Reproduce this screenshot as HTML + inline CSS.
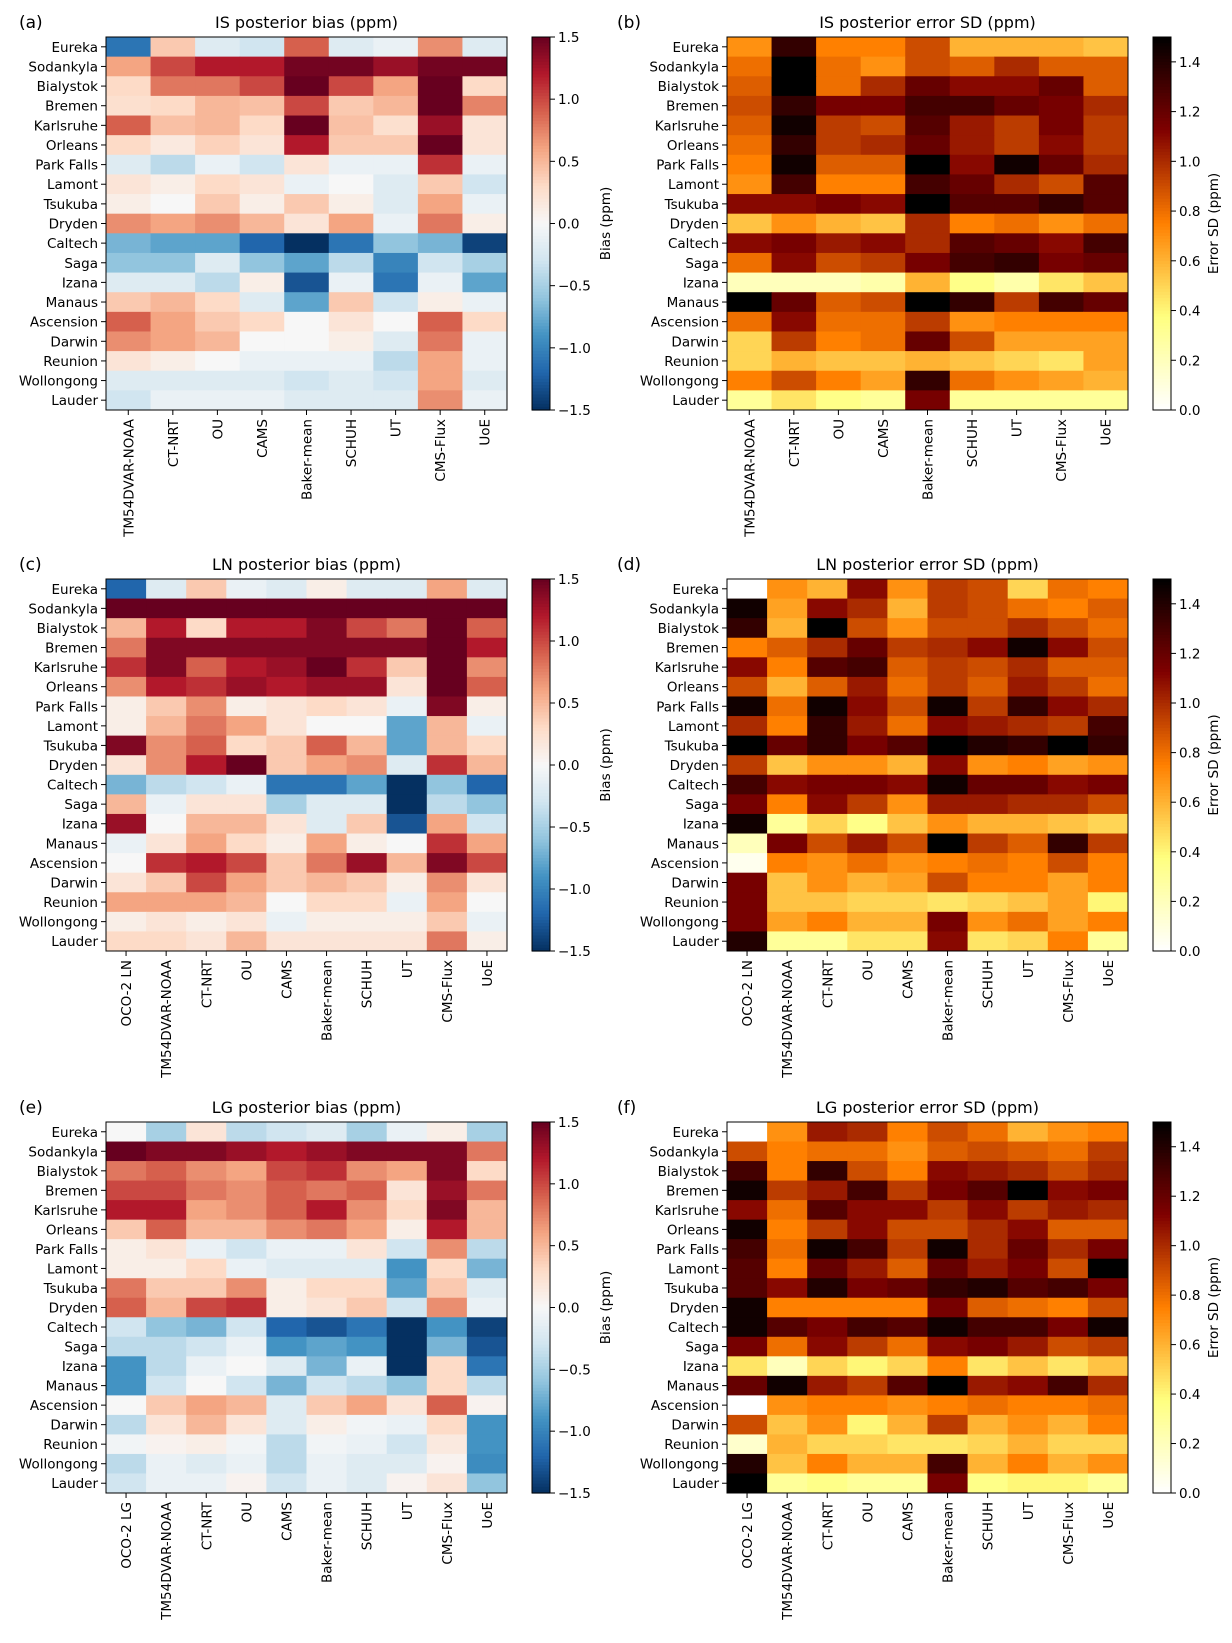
<!DOCTYPE html>
<html><head><meta charset="utf-8"><style>
body{margin:0;background:#fff;}
svg{display:block;font-family:"DejaVu Sans","Liberation Sans",sans-serif;}
</style></head><body>
<svg id="fig" width="1232" height="1643" viewBox="0 0 1232 1643" xmlns="http://www.w3.org/2000/svg"></svg>
<script>
const stations=["Eureka","Sodankyla","Bialystok","Bremen","Karlsruhe","Orleans","Park Falls","Lamont","Tsukuba","Dryden","Caltech","Saga","Izana","Manaus","Ascension","Darwin","Reunion","Wollongong","Lauder"];
const modelsIS=["TM54DVAR-NOAA","CT-NRT","OU","CAMS","Baker-mean","SCHUH","UT","CMS-Flux","UoE"];
const modelsLN=["OCO-2 LN","TM54DVAR-NOAA","CT-NRT","OU","CAMS","Baker-mean","SCHUH","UT","CMS-Flux","UoE"];
const modelsLG=["OCO-2 LG","TM54DVAR-NOAA","CT-NRT","OU","CAMS","Baker-mean","SCHUH","UT","CMS-Flux","UoE"];
const biasTicks=[-1.5,-1.0,-0.5,0.0,0.5,1.0,1.5];
const sdTicks=[0.0,0.2,0.4,0.6,0.8,1.0,1.2,1.4];
const isBias=[
[-1.1,0.4,-0.2,-0.3,0.9,-0.2,-0.1,0.7,-0.2],
[0.6,1.0,1.2,1.2,1.45,1.45,1.3,1.45,1.45],
[0.3,0.8,0.8,1.0,1.5,1.0,0.6,1.5,0.3],
[0.25,0.3,0.5,0.45,1.0,0.4,0.5,1.5,0.75],
[0.9,0.45,0.5,0.3,1.5,0.45,0.25,1.3,0.2],
[0.3,0.15,0.35,0.2,1.2,0.4,0.4,1.5,0.2],
[-0.2,-0.4,-0.1,-0.3,0.2,-0.1,-0.1,1.1,-0.1],
[0.2,0.1,0.3,0.2,-0.1,0.0,-0.2,0.4,-0.3],
[0.1,0.0,0.4,0.1,0.4,0.1,-0.2,0.6,-0.1],
[0.7,0.6,0.7,0.5,0.2,0.6,-0.1,0.8,0.1],
[-0.7,-0.8,-0.8,-1.2,-1.5,-1.1,-0.6,-0.7,-1.4],
[-0.6,-0.6,-0.2,-0.6,-0.8,-0.4,-1.0,-0.3,-0.5],
[-0.2,-0.2,-0.4,0.1,-1.3,-0.1,-1.1,-0.1,-0.8],
[0.4,0.5,0.3,-0.2,-0.8,0.4,-0.3,0.1,-0.1],
[0.9,0.6,0.4,0.3,0.0,0.2,0.0,0.9,0.3],
[0.7,0.6,0.5,0.0,0.0,0.1,-0.2,0.8,-0.1],
[0.2,0.1,0.0,-0.1,-0.1,-0.1,-0.4,0.6,-0.1],
[-0.2,-0.2,-0.2,-0.2,-0.3,-0.2,-0.3,0.6,-0.2],
[-0.3,-0.1,-0.1,-0.1,-0.2,-0.2,-0.2,0.7,-0.1]];
const isSD=[
[0.7,1.35,0.75,0.75,0.9,0.6,0.6,0.6,0.55],
[0.8,1.5,0.8,0.7,0.9,0.85,1.0,0.85,0.85],
[0.85,1.5,0.8,1.0,1.2,1.1,1.1,1.2,0.85],
[0.9,1.35,1.15,1.15,1.3,1.3,1.2,1.15,1.0],
[0.85,1.45,0.95,0.9,1.25,1.05,0.95,1.15,0.95],
[0.8,1.35,0.95,1.0,1.2,1.05,0.95,1.1,0.95],
[0.75,1.45,0.85,0.85,1.5,1.1,1.45,1.2,1.0],
[0.7,1.3,0.75,0.75,1.3,1.2,1.0,0.9,1.25],
[1.1,1.1,1.15,1.1,1.5,1.25,1.25,1.35,1.25],
[0.55,0.7,0.6,0.55,1.0,0.75,0.8,0.7,0.8],
[1.1,1.15,1.05,1.1,1.0,1.25,1.2,1.1,1.3],
[0.8,1.1,0.9,0.95,1.15,1.3,1.35,1.15,1.2],
[0.2,0.2,0.2,0.25,0.6,0.35,0.25,0.45,0.55],
[1.5,1.2,0.85,0.9,1.5,1.35,0.95,1.3,1.2],
[0.8,1.1,0.8,0.8,0.95,0.7,0.75,0.75,0.75],
[0.5,0.95,0.75,0.8,1.2,0.9,0.65,0.65,0.65],
[0.5,0.6,0.55,0.55,0.6,0.55,0.5,0.45,0.65],
[0.75,0.9,0.75,0.65,1.35,0.8,0.7,0.65,0.6],
[0.3,0.45,0.35,0.3,1.15,0.3,0.3,0.3,0.3]];
const lnBias=[
[-1.2,-0.2,0.4,-0.1,-0.2,0.1,-0.2,-0.2,0.6,-0.2],
[1.5,1.5,1.5,1.5,1.5,1.5,1.5,1.5,1.5,1.5],
[0.5,1.2,0.3,1.2,1.2,1.4,1.0,0.8,1.5,0.9],
[0.8,1.4,1.4,1.4,1.4,1.4,1.4,1.4,1.5,1.2],
[1.1,1.4,0.9,1.2,1.3,1.5,1.1,0.4,1.5,0.7],
[0.7,1.2,1.1,1.3,1.2,1.3,1.3,0.2,1.5,0.9],
[0.1,0.4,0.7,0.1,0.2,0.3,0.2,-0.1,1.4,0.1],
[0.1,0.5,0.8,0.6,0.2,0.0,0.0,-0.8,0.5,-0.1],
[1.4,0.7,0.9,0.3,0.4,0.9,0.5,-0.8,0.5,0.3],
[0.2,0.7,1.2,1.5,0.4,0.6,0.7,-0.2,1.1,0.5],
[-0.7,-0.4,-0.3,-0.1,-1.1,-1.1,-0.8,-1.5,-0.6,-1.2],
[0.5,-0.1,0.2,0.2,-0.5,-0.2,-0.2,-1.5,-0.4,-0.6],
[1.3,0.0,0.5,0.5,0.2,-0.2,0.4,-1.3,0.6,-0.3],
[-0.1,0.2,0.6,0.3,0.1,0.6,0.1,0.0,1.1,0.6],
[0.0,1.1,1.2,1.0,0.4,0.8,1.3,0.5,1.4,1.0],
[0.2,0.4,1.0,0.6,0.4,0.5,0.4,0.1,0.7,0.2],
[0.6,0.6,0.6,0.5,0.0,0.3,0.3,-0.1,0.6,0.0],
[0.1,0.2,0.1,0.2,-0.1,0.1,0.1,0.1,0.4,-0.1],
[0.3,0.3,0.2,0.5,0.2,0.2,0.2,0.2,0.8,0.1]];
const lnSD=[
[0.0,0.7,0.6,1.1,0.7,0.95,0.9,0.5,0.8,0.75],
[1.45,0.65,1.1,1.0,0.6,0.95,0.9,0.8,0.75,0.85],
[1.35,0.6,1.5,0.9,0.7,0.9,0.9,1.0,0.9,0.8],
[0.75,0.85,1.0,1.2,0.95,1.0,1.1,1.45,1.1,0.9],
[1.1,0.75,1.25,1.3,0.85,0.95,0.9,1.0,0.85,0.85],
[0.9,0.6,0.85,1.05,0.8,0.95,0.85,1.05,0.95,0.8],
[1.45,0.8,1.45,1.1,0.9,1.45,0.95,1.35,1.1,1.0],
[1.0,0.75,1.35,1.05,0.8,1.1,1.05,1.0,0.95,1.3],
[1.5,1.2,1.35,1.15,1.25,1.5,1.4,1.35,1.5,1.35],
[0.95,0.55,0.7,0.7,0.6,1.1,0.7,0.75,0.65,0.7],
[1.3,1.1,1.15,1.15,1.1,1.45,1.2,1.2,1.1,1.15],
[1.15,0.75,1.1,0.95,0.7,1.05,1.05,1.0,1.0,0.9],
[1.45,0.3,0.5,0.35,0.55,0.7,0.6,0.6,0.55,0.5],
[0.2,1.15,0.9,1.05,0.9,1.5,0.95,0.85,1.35,0.95],
[0.05,0.75,0.7,0.8,0.7,0.75,0.8,0.75,0.9,0.75],
[1.15,0.55,0.7,0.6,0.65,0.9,0.75,0.75,0.65,0.75],
[1.15,0.55,0.55,0.5,0.5,0.45,0.5,0.55,0.65,0.4],
[1.15,0.65,0.75,0.6,0.6,1.15,0.7,0.8,0.65,0.75],
[1.4,0.3,0.3,0.45,0.45,1.1,0.45,0.5,0.75,0.3]];
const lgBias=[
[0.0,-0.5,0.2,-0.4,-0.3,-0.2,-0.5,-0.1,0.1,-0.5],
[1.5,1.4,1.4,1.3,1.2,1.3,1.4,1.4,1.4,0.8],
[0.8,0.9,0.7,0.6,1.0,1.1,0.7,0.6,1.4,0.3],
[1.0,1.0,0.8,0.7,0.9,0.8,0.9,0.2,1.3,0.8],
[1.2,1.2,0.6,0.7,0.9,1.2,0.7,0.3,1.4,0.5],
[0.4,0.9,0.5,0.5,0.7,0.8,0.6,0.1,1.2,0.5],
[0.1,0.2,-0.1,-0.3,-0.1,-0.1,0.2,-0.3,0.7,-0.4],
[0.1,0.1,0.3,-0.1,-0.2,-0.2,-0.2,-0.9,0.3,-0.7],
[0.8,0.4,0.4,0.7,0.1,0.3,0.3,-0.8,0.4,-0.2],
[0.9,0.5,1.0,1.1,0.1,0.2,0.4,-0.3,0.7,-0.1],
[-0.3,-0.6,-0.7,-0.3,-1.2,-1.3,-1.1,-1.5,-0.9,-1.4],
[-0.4,-0.4,-0.3,-0.1,-0.9,-0.8,-0.9,-1.5,-0.7,-1.3],
[-0.9,-0.4,-0.1,0.0,-0.2,-0.7,-0.1,-1.5,0.3,-1.1],
[-0.9,-0.3,0.0,-0.3,-0.7,-0.3,-0.4,-0.6,0.3,-0.4],
[0.0,0.4,0.6,0.5,-0.2,0.4,0.6,0.2,0.9,0.05],
[-0.4,0.2,0.5,0.2,-0.2,0.1,-0.05,-0.1,0.3,-0.9],
[-0.05,0.05,0.1,-0.05,-0.4,-0.05,-0.1,-0.3,0.15,-0.9],
[-0.4,-0.1,-0.2,-0.1,-0.4,-0.1,-0.2,-0.2,0.05,-0.95],
[-0.3,-0.1,-0.1,0.05,-0.3,-0.1,-0.2,0.05,0.2,-0.6]];
const lgSD=[
[0.0,0.7,1.05,1.0,0.75,0.9,0.8,0.6,0.7,0.75],
[0.9,0.75,0.8,0.8,0.7,0.85,0.9,0.85,0.8,0.95],
[1.3,0.75,1.35,0.9,0.75,1.1,1.05,1.0,0.9,1.0],
[1.45,0.95,1.05,1.3,0.95,1.15,1.25,1.5,1.1,1.15],
[1.1,0.8,1.25,1.1,1.1,0.95,1.1,0.95,1.05,1.0],
[1.45,0.75,0.95,1.1,0.9,0.9,1.0,1.1,0.85,0.85],
[1.3,0.8,1.45,1.3,0.95,1.45,1.0,1.2,1.0,1.15],
[1.25,0.75,1.2,1.05,0.85,1.2,1.05,1.15,0.9,1.5],
[1.25,1.1,1.4,1.15,1.2,1.35,1.4,1.25,1.3,1.15],
[1.45,0.75,0.75,0.75,0.75,1.15,0.85,0.8,0.75,0.9],
[1.45,1.25,1.15,1.3,1.25,1.45,1.3,1.3,1.15,1.45],
[1.15,0.8,1.1,0.95,0.8,1.1,1.15,1.05,0.9,0.95],
[0.45,0.2,0.5,0.4,0.5,0.75,0.45,0.55,0.45,0.55],
[1.2,1.45,1.05,0.95,1.25,1.5,1.05,1.1,1.3,1.0],
[0.0,0.7,0.75,0.75,0.7,0.75,0.8,0.75,0.75,0.8],
[0.9,0.55,0.7,0.4,0.6,0.95,0.6,0.7,0.6,0.75],
[0.15,0.6,0.5,0.5,0.45,0.45,0.5,0.6,0.5,0.5],
[1.4,0.55,0.75,0.6,0.6,1.3,0.6,0.75,0.6,0.7],
[1.5,0.3,0.35,0.3,0.3,1.15,0.35,0.4,0.4,0.3]];

const NS="http://www.w3.org/2000/svg";
const svg=document.getElementById('fig');
function mk(tag,attrs,parent){const e=document.createElementNS(NS,tag);for(const k in attrs)e.setAttribute(k,attrs[k]);(parent||svg).appendChild(e);return e;}
const rdbu=["#053061","#2166ac","#4393c3","#92c5de","#d1e5f0","#f7f7f7","#fddbc7","#f4a582","#d6604d","#b2182b","#67001f"];
function hex(h){return [parseInt(h.substr(1,2),16),parseInt(h.substr(3,2),16),parseInt(h.substr(5,2),16)];}
function biasColor(v){let t=(v+1.5)/3;t=Math.max(0,Math.min(1,t));const p=t*10;const i=Math.min(9,Math.floor(p));const f=p-i;const a=hex(rdbu[i]),b=hex(rdbu[i+1]);return `rgb(${a.map((x,k)=>Math.round(x+(b[k]-x)*f)).join(',')})`;}
function sdColor(v){let t=1-v/1.5;t=Math.max(0,Math.min(1,t));const c=x=>Math.round(255*Math.max(0,Math.min(1,x)));return `rgb(${c(2*t)},${c(2*t-0.5)},${c(2*t-1)})`;}
function fmt(v){const s=v.toFixed(1);return s.replace('-','\u2212');}

function panel(o){
  const g=mk('g',{});
  
  
  const nR=stations.length,nC=o.cols.length;
  const cw=(o.x1-o.x0)/nC,rh=(o.y1-o.y0)/nR;
  const xs=j=>o.x0+j*cw, ys=i=>o.y0+i*rh;
  o.data.forEach((row,i)=>row.forEach((v,j)=>{
    const r=mk('rect',{x:xs(j),y:ys(i),width:cw+0.5,height:rh+0.5,fill:o.cf(v)},g);
    
    
  }));
  const fr=mk('rect',{x:o.x0,y:o.y0,width:o.x1-o.x0,height:o.y1-o.y0,fill:'none',stroke:'#000','stroke-width':1},g);
  
  
  stations.forEach((s,i)=>{
    const y=ys(i)+rh/2;
    mk('line',{x1:o.x0-5,x2:o.x0,y1:y,y2:y,stroke:'#000'},g);
    const t=mk('text',{x:o.x0-8,y:y+5,'text-anchor':'end','font-size':13.5},g);t.textContent=s;
    
    
  });
  o.cols.forEach((c,j)=>{
    const x=xs(j)+cw/2;
    mk('line',{x1:x,x2:x,y1:o.y1,y2:o.y1+5,stroke:'#000'},g);
    const t=mk('text',{x:0,y:0,'text-anchor':'end','font-size':13.5,transform:`translate(${x+5},${o.y1+9}) rotate(-90)`},g);t.textContent=c;
    
    
  });
  const tt=mk('text',{x:(o.x0+o.x1)/2,y:o.y0-9,'text-anchor':'middle','font-size':16},g);tt.textContent=o.title;
  
  
  const pl=mk('text',{x:o.lx,y:o.y0-9,'font-size':17},g);pl.textContent=o.label;
  
  
  const cb=mk('g',{},g);
  
  
  const steps=120,ch=(o.y1-o.y0)/steps;
  for(let k=0;k<steps;k++){const v=o.vmax-(k+0.5)/steps*(o.vmax-o.vmin);mk('rect',{x:o.cx,y:o.y0+k*ch,width:o.cwid,height:ch+0.6,fill:o.cf(v)},cb);}
  mk('rect',{x:o.cx,y:o.y0,width:o.cwid,height:o.y1-o.y0,fill:'none',stroke:'#000'},cb);
  const cy=v=>o.y1-(v-o.vmin)/(o.vmax-o.vmin)*(o.y1-o.y0);
  o.ticks.forEach(v=>{const y=cy(v);mk('line',{x1:o.cx+o.cwid,x2:o.cx+o.cwid+5,y1:y,y2:y,stroke:'#000'},cb);
    const t=mk('text',{x:o.cx+o.cwid+8,y:y+5,'font-size':13.5},cb);t.textContent=fmt(v);
    
    });
  const lb=mk('text',{x:0,y:0,'text-anchor':'middle','font-size':13.5,transform:`translate(${o.cblx},${(o.y0+o.y1)/2}) rotate(-90)`},cb);lb.textContent=o.cbl;
  
  
}
const L={x0:106,x1:507,cx:532,cwid:18,cblx:610,lx:19};
const R={x0:727,x1:1128,cx:1153,cwid:18,cblx:1218,lx:617};
const rowsY=[[37,410],[579,951],[1122,1493]];
panel({...L,y0:rowsY[0][0],y1:rowsY[0][1],cols:modelsIS,data:isBias,cf:biasColor,vmin:-1.5,vmax:1.5,ticks:biasTicks,cbl:'Bias (ppm)',title:'IS posterior bias (ppm)',label:'(a)',name:'panel-a-is-bias'});
panel({...R,y0:rowsY[0][0],y1:rowsY[0][1],cols:modelsIS,data:isSD,cf:sdColor,vmin:0,vmax:1.5,ticks:sdTicks,cbl:'Error SD (ppm)',title:'IS posterior  error SD  (ppm)',label:'(b)',name:'panel-b-is-sd'});
panel({...L,y0:rowsY[1][0],y1:rowsY[1][1],cols:modelsLN,data:lnBias,cf:biasColor,vmin:-1.5,vmax:1.5,ticks:biasTicks,cbl:'Bias (ppm)',title:'LN posterior bias (ppm)',label:'(c)',name:'panel-c-ln-bias'});
panel({...R,y0:rowsY[1][0],y1:rowsY[1][1],cols:modelsLN,data:lnSD,cf:sdColor,vmin:0,vmax:1.5,ticks:sdTicks,cbl:'Error SD (ppm)',title:'LN posterior  error SD  (ppm)',label:'(d)',name:'panel-d-ln-sd'});
panel({...L,y0:rowsY[2][0],y1:rowsY[2][1],cols:modelsLG,data:lgBias,cf:biasColor,vmin:-1.5,vmax:1.5,ticks:biasTicks,cbl:'Bias (ppm)',title:'LG posterior bias (ppm)',label:'(e)',name:'panel-e-lg-bias'});
panel({...R,y0:rowsY[2][0],y1:rowsY[2][1],cols:modelsLG,data:lgSD,cf:sdColor,vmin:0,vmax:1.5,ticks:sdTicks,cbl:'Error SD (ppm)',title:'LG posterior  error SD  (ppm)',label:'(f)',name:'panel-f-lg-sd'});
</script>
</body></html>
